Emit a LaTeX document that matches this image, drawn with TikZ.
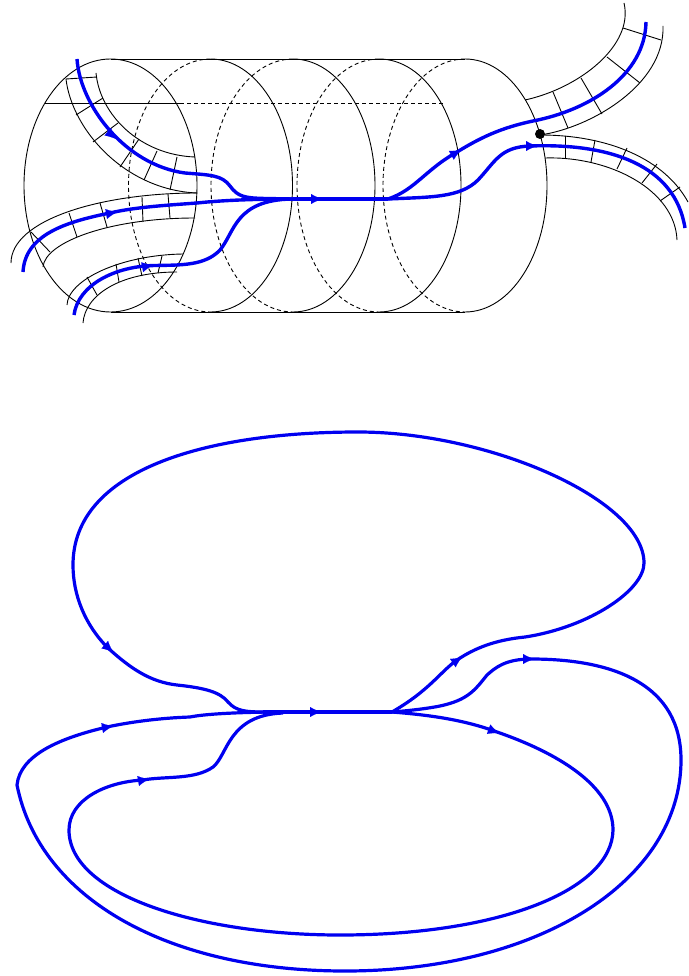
\documentclass[tikz,border=0pt]{standalone}
\usepackage{tikz}
\usetikzlibrary{arrows.meta}
\definecolor{wireblue}{HTML}{0000F0}

\begin{document}
\begin{tikzpicture}[
    x=1pt,
    y=-1pt,
    shell/.style={draw=black, line width=0.9pt},
    hidden/.style={shell, dash pattern=on 4pt off 3pt},
    wire/.style={draw=wireblue, line width=3.4pt},
    loopwire/.style={draw=wireblue, line width=3.2pt},
    flow/.style={draw=wireblue, fill=wireblue, line width=0.1pt, -{Latex[length=11pt,width=10pt]}}
  ]
    \useasboundingbox (0,0) rectangle (688,976);

    % cylinder
    \draw[shell] (110.5,185.5) ellipse [x radius=86.5pt, y radius=126.5pt];
    \foreach \cx in {210.5,293,379,465} {
      \draw[shell] (\cx,59) arc[start angle=90, end angle=-90, x radius=82pt, y radius=126.5pt];
      \draw[hidden] (\cx,59) arc[start angle=90, end angle=270, x radius=82pt, y radius=126.5pt];
    }
    \draw[shell] (110.5,59) -- (465,59);
    \draw[shell] (110.5,312) -- (465,312);
    \draw[shell] (45,103) -- (180,103);
    \draw[hidden] (180,103) -- (443,103);

    % ribbons
    \draw[shell] (96,73) .. controls (100,115) and (140,155) .. (195,157);
    \draw[shell] (66,79) .. controls (72,130) and (125,190) .. (197,193);
    \draw[shell] (11,263) .. controls (11,220) and (100,193) .. (197,193);
    \draw[shell] (43,267) .. controls (45,242) and (110,218) .. (195,218);
    \draw[shell] (67,305) .. controls (68,280) and (120,255) .. (183,254);
    \draw[shell] (83,323) .. controls (85,295) and (120,272) .. (177,272);
    \draw[shell] (624,3) .. controls (634,45) and (580,88) .. (525,100);
    \draw[shell] (663,26) .. controls (665,85) and (590,128) .. (540,135);
    \draw[shell] (540,135) .. controls (610,135) and (665,160) .. (688,202);
    \draw[shell] (545,158) .. controls (610,156) and (675,190) .. (677,240);

    % cross ticks
    \foreach \ax/\ay/\bx/\by in {
      66/79/97/77, 76/115/103/98, 93/142/118/123, 120/167/139/139, 144/180/157/151, 170/190/177/157,
      31/232/50/252, 69/213/77/237, 100/203/107/227, 142/197/143/222, 168/194/170/218,
      87/277/97/295, 116/264/119/282, 138/258/142/276, 162/256/158/273,
      623/28/661/40, 607/57/640/83, 581/78/602/114, 553/92/568/128,
      565/136/565/158, 595/140/591/162, 627/148/617/169, 657/164/642/183, 680/187/660/201
    } {
      \draw[shell] (\ax,\ay) -- (\bx,\by);
    }

    % wires, upper picture
    \draw[wire] (77,59) .. controls (80,105) and (125,165) .. (185,173)
      .. controls (210,175) and (222,175) .. (230,186)
      .. controls (238,197) and (245,198) .. (265,198.5) -- (292,199);
    \draw[wire] (23,272) .. controls (25,235) and (65,222) .. (110,213)
      .. controls (135,207) and (170,205) .. (197,203)
      .. controls (225,200) and (260,199) .. (292,199);
    \draw[wire] (74,315) .. controls (78,285) and (115,266) .. (155,265.5)
      .. controls (180,265) and (205,266) .. (220,250)
      .. controls (235,232) and (235,200) .. (292,199);
    \draw[wire] (292,199) -- (388,199);
    \draw[wire] (388,199) .. controls (415,190) and (425,170) .. (457,152)
      .. controls (480,138) and (500,128) .. (533,121)
      .. controls (590,110) and (645,75) .. (646,22);
    \draw[wire] (388,199) .. controls (430,197) and (460,198) .. (478,180)
      .. controls (495,162) and (500,147) .. (530,146)
      .. controls (610,143) and (675,165) .. (685,228);

    \fill[black] (540,134) circle (5pt);

    \foreach \ax/\ay/\bx/\by in {
      107/131/116/139, 106/214/117/212, 143/267/153/265, 311/199/322/199, 452/155/461/150, 526/146/537/146
    } {
      \draw[flow] (\ax,\ay) -- (\bx,\by);
    }

    % loops, lower picture
    \draw[loopwire] (392,712) .. controls (430,690) and (440,672) .. (457,660)
      .. controls (475,648) and (495,640) .. (525,637)
      .. controls (590,627) and (644,590) .. (644,563)
      .. controls (644,500) and (490,432) .. (358,432)
      .. controls (205,432) and (73,470) .. (73,565)
      .. controls (73,595) and (85,625) .. (108,648)
      .. controls (130,668) and (150,682) .. (177,685)
      .. controls (205,688) and (220,692) .. (228,702)
      .. controls (236,711) and (245,712) .. (265,712);
    \draw[loopwire] (270,712) .. controls (235,712.5) and (205,714) .. (190,717)
      .. controls (160,718) and (130,722) .. (107,727)
      .. controls (60,738) and (20,755) .. (17,785)
      .. controls (40,900) and (170,971) .. (345,971)
      .. controls (540,971) and (681,880) .. (681,760)
      .. controls (681,685) and (615,659) .. (531,659)
      .. controls (505,659) and (495,668) .. (487,675)
      .. controls (475,690) and (468,700) .. (440,706)
      .. controls (425,709) and (405,711) .. (392,712);
    \draw[loopwire] (283,713) .. controls (228,715) and (228,755) .. (213,767)
      .. controls (195,780) and (165,776) .. (143,780)
      .. controls (105,782) and (69,800) .. (69,830)
      .. controls (69,895) and (200,935) .. (340,935)
      .. controls (500,935) and (612,890) .. (613,830)
      .. controls (613,785) and (555,752) .. (497,732)
      .. controls (465,720) and (430,715) .. (392,712);
    \draw[loopwire] (263,712) -- (392,712);

    \foreach \ax/\ay/\bx/\by in {
      104/644/113/652, 102/728/113/726, 138/781/149/779, 310/712/321/712, 453/663/462/657, 523/659/534/659, 488/729/499/733
    } {
      \draw[flow] (\ax,\ay) -- (\bx,\by);
    }
  \end{tikzpicture}
\end{document}
